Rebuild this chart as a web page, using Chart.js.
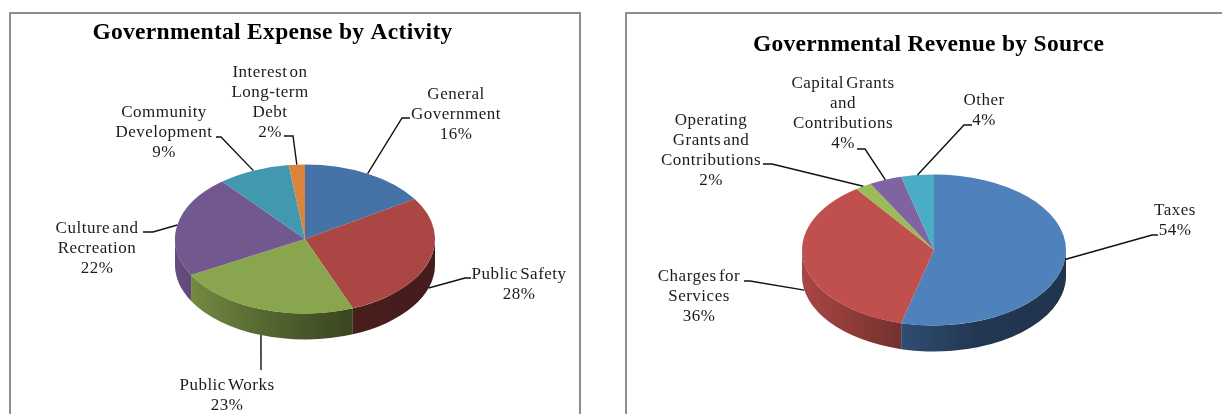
<!DOCTYPE html>
<html>
<head>
<meta charset="utf-8">
<title>Governmental Activities</title>
<script src="https://cdn.jsdelivr.net/npm/chart.js@4"></script>
<style>
  html, body { margin: 0; padding: 0; background: #fff; }
  body { position: relative; width: 1222px; height: 414px; overflow: hidden; }
  canvas { position: absolute; top: 0; }
  .frame { position: absolute; top: 12px; height: 430px; box-sizing: border-box; border: 2px solid #8e8e8e; }
</style>
</head>
<body>
<div class="frame" style="left:9px;width:572px"></div>
<div class="frame" style="left:625px;width:640px"></div>
<canvas id="expense" width="610" height="414" style="left:0"></canvas>
<canvas id="revenue" width="610" height="414" style="left:612px"></canvas>
<script>
// expense chart
const expenseLabels = [
  ['General', 'Government'],
  ['Public Safety'],
  ['Public Works'],
  ['Culture and', 'Recreation'],
  ['Community', 'Development'],
  ['Interest on', 'Long-term', 'Debt']
];
const expenseValues = [16, 28, 23, 22, 9, 2];
const expenseColors = ['#4572a7', '#aa4643', '#89a54e', '#71588f', '#4198af', '#db843d'];

// revenue chart
const revenueLabels = [
  ['Taxes'],
  ['Charges for', 'Services'],
  ['Operating', 'Grants and', 'Contributions'],
  ['Capital Grants', 'and', 'Contributions'],
  ['Other']
];
const revenueValues = [54, 36, 2, 4, 4];
const revenueColors = ['#4f81bd', '#c0504d', '#9bbb59', '#8064a2', '#4bacc6'];

// label placement: text centre x, first baseline y, leader knee and end, in page px
const expenseCallouts = [
  { x: 456, y: 99,  knee: [402, 118], end: [410, 118] },
  { x: 519, y: 279, knee: [465, 278], end: [471, 278], onSide: true },
  { x: 227, y: 390, knee: [261, 370], end: [261, 370], onSide: true },
  { x: 97,  y: 233, knee: [153, 232], end: [143, 232] },
  { x: 164, y: 117, knee: [221, 137], end: [216, 137] },
  { x: 270, y: 77,  knee: [293, 136], end: [284, 136] }
];
const revenueCallouts = [
  { x: 1175, y: 215, knee: [1152, 235], end: [1158, 235] },
  { x: 699,  y: 281, knee: [750, 281],  end: [744, 281], onSide: true },
  { x: 711,  y: 125, knee: [772, 164],  end: [763, 164] },
  { x: 843,  y: 88,  knee: [865, 149],  end: [857, 149] },
  { x: 984,  y: 105, knee: [964, 125],  end: [972, 125] }
];

const FONT = '"Liberation Serif", serif';
const LINE_HEIGHT = 20;

function shade(hex, f) {
  const n = parseInt(hex.slice(1), 16);
  const c = [n >> 16, (n >> 8) & 255, n & 255].map(v => Math.round(v * f));
  return `rgb(${c[0]},${c[1]},${c[2]})`;
}

// side walls of the disc, darker towards the right
function drawSides(chart, meta, squash, depth) {
  const ctx = chart.ctx;
  meta.data.forEach(arc => {
    const start = Math.max(arc.startAngle, 0);
    const end = Math.min(arc.endAngle, Math.PI);
    if (end <= start) return;
    const { x, y, outerRadius: rx } = arc;
    const ry = rx * squash;
    const color = arc.options.backgroundColor;
    const grad = ctx.createLinearGradient(x - rx, 0, x + rx, 0);
    grad.addColorStop(0, shade(color, 0.88));
    grad.addColorStop(0.38, shade(color, 0.6));
    grad.addColorStop(0.66, shade(color, 0.43));
    grad.addColorStop(1, shade(color, 0.4));
    ctx.beginPath();
    ctx.ellipse(x, y, rx, ry, 0, start, end);
    ctx.ellipse(x, y + depth, rx, ry, 0, end, start, true);
    ctx.closePath();
    ctx.fillStyle = grad;
    ctx.fill();
  });
}

const pie3d = {
  id: 'pie3d',
  beforeDatasetsDraw(chart, args, opts) {
    const ctx = chart.ctx;
    const meta = chart.getDatasetMeta(0);
    const { x, y } = meta.data[0];
    drawSides(chart, meta, opts.squash, opts.depth);
    ctx.save();
    ctx.translate(x, y);
    ctx.scale(1, opts.squash);
    ctx.translate(-x, -y);
  },
  afterDatasetsDraw(chart, args, opts) {
    const ctx = chart.ctx;
    ctx.restore();
    const meta = chart.getDatasetMeta(0);
    const values = chart.data.datasets[0].data;

    ctx.save();
    ctx.translate(-opts.originX, 0);
    ctx.textAlign = 'center';
    ctx.textBaseline = 'alphabetic';

    // title
    ctx.fillStyle = '#000';
    ctx.font = `bold ${opts.titleSize}px ${FONT}`;
    ctx.letterSpacing = opts.titleSpacing + 'px';
    ctx.fillText(opts.title, opts.titleX, opts.titleY);

    // leader lines start at the middle of each slice's rim
    meta.data.forEach((arc, i) => {
      const c = opts.callouts[i];
      const mid = (arc.startAngle + arc.endAngle) / 2;
      const px = arc.x + opts.originX + arc.outerRadius * Math.cos(mid);
      const py = arc.y + arc.outerRadius * opts.squash * Math.sin(mid) + (c.onSide ? opts.depth : 0);
      ctx.beginPath();
      ctx.moveTo(px, py);
      ctx.lineTo(c.knee[0], c.knee[1]);
      ctx.lineTo(c.end[0], c.end[1]);
      ctx.strokeStyle = '#111';
      ctx.lineWidth = 1.4;
      ctx.stroke();
    });

    // category name and percentage
    ctx.fillStyle = '#1c1c1c';
    ctx.font = `${opts.labelSize}px ${FONT}`;
    ctx.letterSpacing = opts.labelSpacing + 'px';
    ctx.wordSpacing = '-2.5px';
    chart.data.labels.forEach((lines, i) => {
      const c = opts.callouts[i];
      [...lines, values[i] + '%'].forEach((t, k) => {
        ctx.fillText(t, c.x, c.y + k * LINE_HEIGHT);
      });
    });
    ctx.restore();
  }
};

function pieChart(id, labels, values, colors, padding, opts) {
  return new Chart(document.getElementById(id), {
    type: 'pie',
    data: {
      labels,
      datasets: [{ data: values, backgroundColor: colors, borderWidth: 0, radius: opts.radius }]
    },
    options: {
      responsive: false,
      animation: false,
      layout: { padding },
      plugins: {
        legend: { display: false },
        tooltip: { enabled: false },
        pie3d: opts
      }
    },
    plugins: [pie3d]
  });
}

pieChart('expense', expenseLabels, expenseValues, expenseColors, { top: 64 }, {
  radius: 130, squash: 0.573, depth: 26, originX: 0, callouts: expenseCallouts,
  title: 'Governmental Expense by Activity', titleX: 272.5, titleY: 39,
  titleSize: 23.5, titleSpacing: 0.3, labelSize: 17, labelSpacing: 0.5
});
pieChart('revenue', revenueLabels, revenueValues, revenueColors, { top: 86, left: 34 }, {
  radius: 132, squash: 0.572, depth: 26, originX: 612, callouts: revenueCallouts,
  title: 'Governmental Revenue by Source', titleX: 928.5, titleY: 51,
  titleSize: 23.5, titleSpacing: 0.3, labelSize: 17, labelSpacing: 0.5
});
</script>
</body>
</html>
